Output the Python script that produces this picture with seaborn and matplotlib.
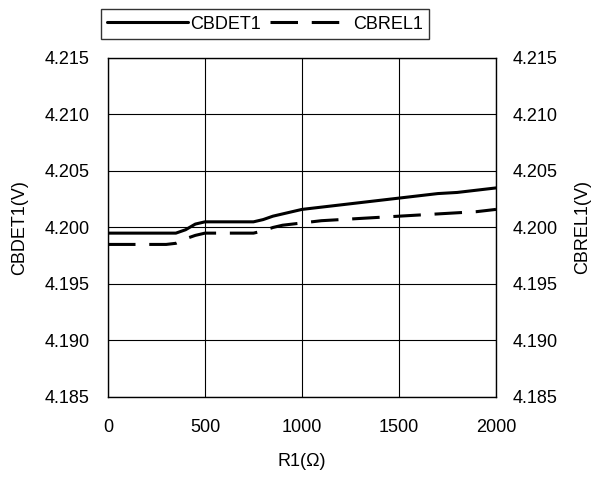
import matplotlib
matplotlib.use("Agg")
import matplotlib.pyplot as plt
import seaborn as sns
import pandas as pd

# values
r1 = [0, 300, 350, 400, 450, 500, 600, 750, 800, 850, 900, 1000, 1100, 1200,
      1300, 1400, 1500, 1600, 1700, 1800, 1900, 2000]
cbdet1 = [4.1995, 4.1995, 4.1995, 4.1998, 4.2003, 4.2005, 4.2005, 4.2005, 4.2007,
          4.2010, 4.2012, 4.2016, 4.2018, 4.2020, 4.2022, 4.2024, 4.2026, 4.2028,
          4.2030, 4.2031, 4.2033, 4.2035]
cbrel1 = [4.1985, 4.1985, 4.1986, 4.1990, 4.1993, 4.1995, 4.1995, 4.1995, 4.1997,
          4.2000, 4.2002, 4.2004, 4.2006, 4.2007, 4.2008, 4.2009, 4.2010, 4.2011,
          4.2012, 4.2013, 4.2014, 4.2016]
yticks = [4.185, 4.190, 4.195, 4.200, 4.205, 4.210, 4.215]
xticks = [0, 500, 1000, 1500, 2000]

sns.set_style("white")
plt.rcParams['font.family'] = ['Liberation Sans', 'Noto Sans CJK JP', 'DejaVu Sans']
plt.rcParams['text.color'] = 'black'
plt.rcParams['axes.labelcolor'] = 'black'
plt.rcParams['xtick.color'] = 'black'
plt.rcParams['ytick.color'] = 'black'

df = pd.DataFrame({"R1": r1, "CBDET1": cbdet1, "CBREL1": cbrel1})

fig = plt.figure(figsize=(5.98, 4.78), dpi=100)
ax = fig.add_axes([0.1806, 0.1695, 0.6488, 0.7092])

sns.lineplot(data=df, x="R1", y="CBDET1", ax=ax, color="black", lw=2.2, label="CBDET1")
sns.lineplot(data=df, x="R1", y="CBREL1", ax=ax, color="black", lw=2.2, label="CBREL1")
ax.lines[1].set_dashes((9, 4.5))

fs = 13
ax.set_xlim(0, 2000)
ax.set_ylim(4.185, 4.215)
ax.set_xticks(xticks)
ax.set_yticks(yticks)
ax.set_yticklabels([f"{v:.3f}" for v in yticks])
ax.grid(True, color="black", lw=0.8)
for s in ax.spines.values():
    s.set_color("black")
    s.set_linewidth(1.0)
ax.tick_params(axis="y", labelsize=fs, length=0, pad=13)
ax.tick_params(axis="x", labelsize=fs, length=0, pad=16)
ax.set_xlabel("R1(Ω)", fontsize=fs, labelpad=12)
ax.set_ylabel("CBDET1(V)", fontsize=fs, labelpad=12)

ax2 = ax.twinx()
ax2.set_ylim(4.185, 4.215)
ax2.set_yticks(yticks)
ax2.set_yticklabels([f"{v:.3f}" for v in yticks])
ax2.tick_params(axis="y", labelsize=fs, length=0, pad=12)
ax2.set_ylabel("CBREL1(V)", fontsize=fs, labelpad=12)
for s in ax2.spines.values():
    s.set_visible(False)

leg = ax.legend(loc="center", bbox_to_anchor=(0.405, 1.1), ncol=2, frameon=True,
                fancybox=False, edgecolor="black", fontsize=fs, handlelength=4.5,
                columnspacing=0.5, handletextpad=0.1, borderpad=0.35,
                borderaxespad=0)
leg.get_frame().set_linewidth(1.0)

fig.savefig("out.png", dpi=100)
